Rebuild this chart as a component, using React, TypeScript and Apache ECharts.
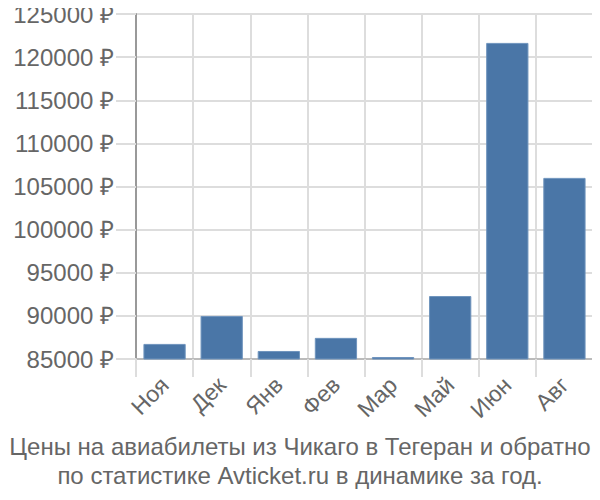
import React, { useEffect, useRef } from "react";
import * as echarts from "echarts";

const categories = ["Ноя", "Дек", "Янв", "Фев", "Мар", "Май", "Июн", "Авг"];
const prices = [86750, 89990, 85930, 87450, 85230, 92300, 121650, 106000];
const titleLines = [
  "Цены на авиабилеты из Чикаго в Тегеран и обратно",
  "по статистике Avticket.ru в динамике за год.",
];

export default function App() {
  const ref = useRef<HTMLDivElement>(null);
  useEffect(() => {
    const chart = echarts.init(ref.current!, null, { renderer: "svg" });
    chart.setOption({
      animation: false,
      textStyle: { fontFamily: "Liberation Sans" },
      title: {
        text: titleLines.join("\n"),
        left: "center",
        top: 427,
        textStyle: {
          fontFamily: "Liberation Sans",
          fontSize: 24,
          fontWeight: "normal",
          color: "#666",
          lineHeight: 29,
        },
      },
      grid: { left: 136, right: 7, top: 14, bottom: 141, containLabel: false },
      xAxis: {
        type: "category",
        data: categories,
        boundaryGap: true,
        axisLine: { show: true, lineStyle: { color: "#bbb", width: 2 } },
        axisTick: { show: true, length: 18, alignWithLabel: false, lineStyle: { color: "#ddd", width: 2 } },
        splitLine: { show: true, lineStyle: { color: "#ddd", width: 2 } },
        axisLabel: {
          rotate: 45,
          fontSize: 23,
          color: "#666",
          margin: 22,
          fontFamily: "Liberation Sans",
        },
      },
      yAxis: {
        type: "value",
        min: 85000,
        max: 125000,
        interval: 5000,
        axisLine: { show: true, lineStyle: { color: "#999", width: 2 } },
        axisTick: { show: true, length: 20, lineStyle: { color: "#ddd", width: 2 } },
        splitLine: { show: true, lineStyle: { color: "#ddd", width: 2 } },
        axisLabel: {
          fontSize: 24,
          color: "#666",
          margin: 22,
          fontFamily: "Liberation Sans",
          formatter: (v: number) => `${v} ₽`,
        },
      },
      series: [
        {
          type: "bar",
          data: prices,
          barCategoryGap: "26%",
          itemStyle: { color: "#4a76a7", borderColor: "#6f94bd", borderWidth: 1 },
        },
      ],
    });
    return () => chart.dispose();
  }, []);
  return <div ref={ref} style={{ width: 600, height: 500, margin: -8 }} />;
}
